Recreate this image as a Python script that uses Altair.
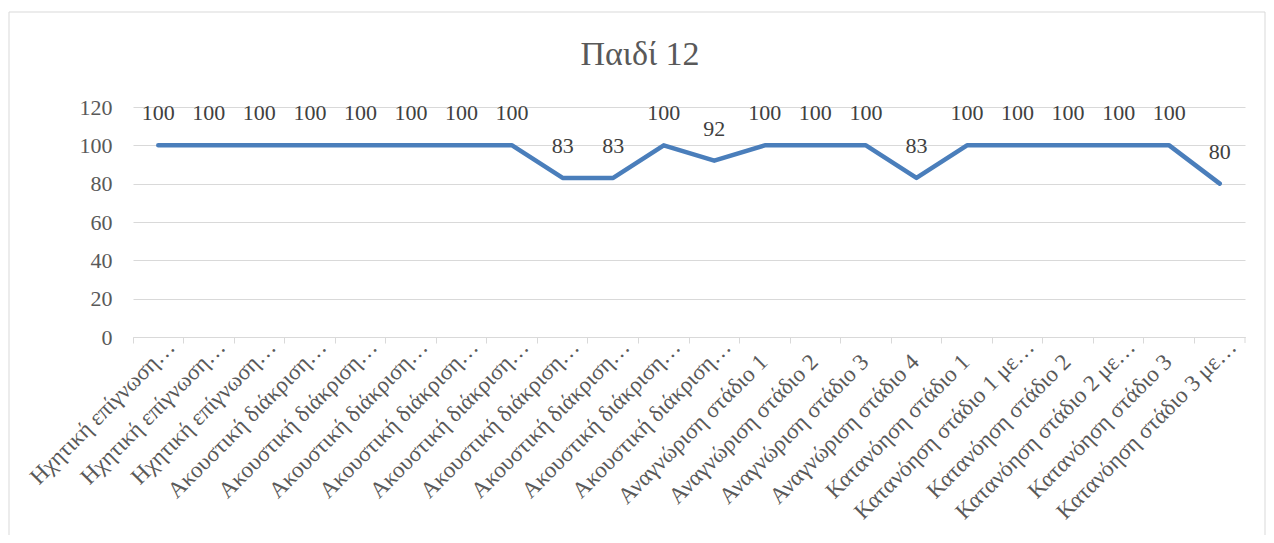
import json
import altair as alt
import pandas as pd

labels = [
    "Ηχητική επίγνωση…", "Ηχητική επίγνωση…", "Ηχητική επίγνωση…",
    "Ακουστική διάκριση…", "Ακουστική διάκριση…", "Ακουστική διάκριση…",
    "Ακουστική διάκριση…", "Ακουστική διάκριση…", "Ακουστική διάκριση…",
    "Ακουστική διάκριση…", "Ακουστική διάκριση…", "Ακουστική διάκριση…",
    "Αναγνώριση στάδιο 1", "Αναγνώριση στάδιο 2", "Αναγνώριση στάδιο 3",
    "Αναγνώριση στάδιο 4",
    "Κατανόηση στάδιο 1", "Κατανόηση στάδιο 1 με…", "Κατανόηση στάδιο 2",
    "Κατανόηση στάδιο 2 με…", "Κατανόηση στάδιο 3", "Κατανόηση στάδιο 3 με…",
]
values = [100, 100, 100, 100, 100, 100, 100, 100, 83, 83, 100, 92,
          100, 100, 100, 83, 100, 100, 100, 100, 100, 80]
y_ticks = [0, 20, 40, 60, 80, 100, 120]
title_text = "Παιδί 12"

df = pd.DataFrame({"idx": list(range(len(labels))), "label": labels, "value": values})

label_expr = json.dumps(labels, ensure_ascii=False) + "[datum.value]"
full_idx = [i for i, l in enumerate(labels) if not l.endswith("…")]
full_test = "indexof(" + json.dumps(full_idx) + ", datum.value) >= 0"

FONT = "Liberation Serif"
GRID = "#d9d9d9"
TXT = "#595959"

x_enc = alt.X(
    "idx:O",
    scale=alt.Scale(type="band", paddingInner=0, paddingOuter=0),
    axis=alt.Axis(
        title=None, bandPosition=0,
        labelOffset={"condition": {"test": full_test, "value": -1}, "value": 13},
        labelPadding={"condition": {"test": full_test, "value": 15}, "value": 0},
        labelAngle=-45, labelAlign="right", labelBaseline="middle",
        labelExpr=label_expr, labelFont=FONT, labelFontSize=23, labelColor=TXT,
        labelOverlap=False, labelLimit=600, tickSize=6, tickColor=GRID,
        domainColor=GRID, grid=False,
    ),
)
y_enc = alt.Y(
    "value:Q",
    scale=alt.Scale(domain=[0, 120], nice=False),
    axis=alt.Axis(
        title=None, values=y_ticks, grid=True, gridColor=GRID, domain=False,
        ticks=False, labelFont=FONT, labelFontSize=22, labelColor=TXT,
        labelPadding=21,
    ),
)

base = alt.Chart(df)
line = base.mark_line(color="#4A7EBB", strokeWidth=4.5, strokeCap="round",
                      strokeJoin="round").encode(x=x_enc, y=y_enc)
text = base.mark_text(dy=-32, fontSize=22, font=FONT, color="#404040",
                      baseline="middle").encode(x=x_enc, y=y_enc, text="value:Q")

frame_df = pd.DataFrame({"k": [0]})
border = alt.Chart(frame_df).mark_rect(fillOpacity=0, stroke=GRID, strokeWidth=1).encode(
    x=alt.value(-124), x2=alt.value(1132), y=alt.value(-95), y2=alt.value(440)
)
last_tick = alt.Chart(frame_df).mark_rule(color=GRID).encode(
    x=alt.value(1112), y=alt.value(230), y2=alt.value(236)
)
title = alt.Chart(frame_df).mark_text(
    text=title_text, fontSize=34, font=FONT, color=TXT, align="center",
    baseline="alphabetic"
).encode(x=alt.value(507), y=alt.value(-42))

chart = alt.layer(line, text, border, last_tick, title).properties(
    width=1112, height=230,
    autosize=alt.AutoSizeParams(type="none"),
    padding={"left": 125, "top": 99, "right": 21, "bottom": 198},
).configure_view(strokeWidth=0)

chart.save("out.html", embed_options={"renderer": "svg", "actions": False})
